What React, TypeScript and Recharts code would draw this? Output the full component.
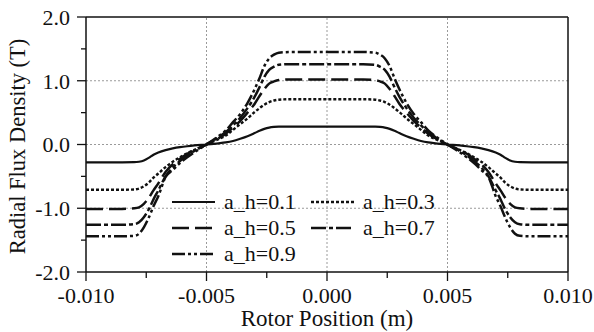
import React from 'react';
import { LineChart, Line, XAxis, YAxis, ReferenceLine, Legend } from 'recharts';

const FONT = 'Liberation Serif';
const INK = '#111';

// rotor position (m)
const positions = [
  -0.01, -0.0085, -0.008, -0.0078, -0.0076, -0.0074, -0.0072, -0.007, -0.0067, -0.0064, -0.0061, -0.0058,
  -0.0055, -0.005, -0.0045, -0.0042, -0.0039, -0.0036, -0.0033, -0.003, -0.0028, -0.0026, -0.0024, -0.0022,
  -0.002, -0.0015, 0, 0.0015, 0.002, 0.0022, 0.0024, 0.0026, 0.0028, 0.003, 0.0033, 0.0036, 0.0039, 0.0042,
  0.0045, 0.005, 0.0055, 0.0058, 0.0061, 0.0064, 0.0067, 0.007, 0.0072, 0.0074, 0.0076, 0.0078, 0.008,
  0.0085, 0.01,
];

// radial flux density (T) for each a_h
const ah01 = [
  -0.28, -0.28, -0.278, -0.27, -0.25, -0.21, -0.16, -0.125, -0.088, -0.062, -0.042, -0.027,
  -0.015, 0, 0.018, 0.032, 0.055, 0.09, 0.13, 0.18, 0.215, 0.245, 0.265, 0.275,
  0.279, 0.28, 0.28, 0.28, 0.279, 0.275, 0.265, 0.245, 0.215, 0.18, 0.13, 0.09, 0.055, 0.032,
  0.018, 0, -0.015, -0.027, -0.042, -0.062, -0.088, -0.125, -0.16, -0.21, -0.25, -0.27, -0.278,
  -0.28, -0.28,
];
const ah03 = [
  -0.71, -0.71, -0.705, -0.69, -0.655, -0.6, -0.52, -0.455, -0.355, -0.27, -0.2, -0.135,
  -0.085, 0, 0.085, 0.14, 0.23, 0.32, 0.41, 0.51, 0.57, 0.625, 0.665, 0.69,
  0.703, 0.71, 0.71, 0.71, 0.703, 0.69, 0.665, 0.625, 0.57, 0.51, 0.41, 0.32, 0.23, 0.14,
  0.085, 0, -0.085, -0.135, -0.2, -0.27, -0.355, -0.455, -0.52, -0.6, -0.655, -0.69, -0.705,
  -0.71, -0.71,
];
const ah05 = [
  -1.01, -1.01, -1.0, -0.985, -0.93, -0.84, -0.72, -0.61, -0.43, -0.31, -0.225, -0.145,
  -0.087, 0, 0.1, 0.17, 0.265, 0.37, 0.5, 0.64, 0.76, 0.87, 0.955, 0.99,
  1.01, 1.02, 1.02, 1.02, 1.01, 0.99, 0.955, 0.87, 0.76, 0.64, 0.5, 0.37, 0.265, 0.17,
  0.1, 0, -0.087, -0.145, -0.225, -0.31, -0.43, -0.61, -0.72, -0.84, -0.93, -0.985, -1.0,
  -1.01, -1.01,
];
const ah07 = [
  -1.26, -1.26, -1.25, -1.22, -1.14, -1.02, -0.86, -0.72, -0.5, -0.36, -0.26, -0.17,
  -0.1, 0, 0.115, 0.195, 0.3, 0.42, 0.57, 0.75, 0.9, 1.06, 1.17, 1.22,
  1.25, 1.26, 1.26, 1.26, 1.25, 1.22, 1.17, 1.06, 0.9, 0.75, 0.57, 0.42, 0.3, 0.195,
  0.115, 0, -0.1, -0.17, -0.26, -0.36, -0.5, -0.72, -0.86, -1.02, -1.14, -1.22, -1.25,
  -1.26, -1.26,
];
const ah09 = [
  -1.44, -1.44, -1.433, -1.4, -1.3, -1.15, -0.97, -0.81, -0.51, -0.4, -0.29, -0.2,
  -0.12, 0, 0.13, 0.22, 0.35, 0.48, 0.65, 0.87, 1.04, 1.23, 1.35, 1.41,
  1.44, 1.45, 1.45, 1.45, 1.44, 1.41, 1.35, 1.23, 1.04, 0.87, 0.65, 0.48, 0.35, 0.22,
  0.13, 0, -0.12, -0.2, -0.29, -0.4, -0.51, -0.81, -0.97, -1.15, -1.3, -1.4, -1.433,
  -1.44, -1.44,
];

const seriesNames = ['a_h=0.1', 'a_h=0.3', 'a_h=0.5', 'a_h=0.7', 'a_h=0.9'];
const xTicks = [-0.01, -0.0075, -0.005, -0.0025, 0, 0.0025, 0.005, 0.0075, 0.01];
const yTicks = [-2, -1.5, -1, -0.5, 0, 0.5, 1, 1.5, 2];
const xGrid = [-0.005, 0, 0.005];
const yGrid = [-1, 0, 1];

const data = positions.map((x, i) => ({
  x,
  ah01: ah01[i],
  ah03: ah03[i],
  ah05: ah05[i],
  ah07: ah07[i],
  ah09: ah09[i],
}));

const series = [
  { key: 'ah01', name: seriesNames[0], dash: undefined, width: 2.2 },
  { key: 'ah03', name: seriesNames[1], dash: '3 2', width: 2.4 },
  { key: 'ah05', name: seriesNames[2], dash: '17 6', width: 2.5 },
  { key: 'ah07', name: seriesNames[3], dash: '15 3 4 3', width: 2.5 },
  { key: 'ah09', name: seriesNames[4], dash: '13 3 3 3 3 3', width: 2.5 },
];

const YTick = (props: any) => {
  const { x, y, payload } = props;
  const v = payload.value as number;
  const major = Math.abs(v - Math.round(v)) < 1e-9;
  return (
    <g>
      <line x1={x} x2={x - (major ? 9 : 5)} y1={y} y2={y} stroke={INK} strokeWidth={1.3} />
      {major && (
        <text x={x - 16} y={y} dy="0.36em" textAnchor="end" fontFamily={FONT} fontSize={22} fill={INK}>
          {v.toFixed(1)}
        </text>
      )}
    </g>
  );
};

const XTick = (props: any) => {
  const { x, y, payload } = props;
  const v = payload.value as number;
  const major = Math.abs(v / 0.005 - Math.round(v / 0.005)) < 1e-6;
  return (
    <g>
      <line x1={x} x2={x} y1={y} y2={y + (major ? 9 : 6)} stroke={INK} strokeWidth={1.3} />
      {major && (
        <text x={x} y={y + 30.5} textAnchor="middle" fontFamily={FONT} fontSize={22} fill={INK}>
          {v.toFixed(3)}
        </text>
      )}
    </g>
  );
};

const YTitle = (props: any) => {
  const { viewBox } = props;
  const cx = viewBox.x + 17;
  const cy = viewBox.y + viewBox.height / 2 + 2;
  return (
    <text
      x={cx}
      y={cy}
      transform={`rotate(-90 ${cx} ${cy})`}
      textAnchor="middle"
      dy="0.34em"
      fontFamily={FONT}
      fontSize={22.5}
      fill={INK}
    >
      Radial Flux Density (T)
    </text>
  );
};

const XTitle = (props: any) => {
  const { viewBox } = props;
  return (
    <text
      x={viewBox.x + viewBox.width / 2}
      y={viewBox.y + 54}
      textAnchor="middle"
      fontFamily={FONT}
      fontSize={23}
      fill={INK}
    >
      Rotor Position (m)
    </text>
  );
};

const renderLegend = () => (
  <div style={{ display: 'grid', gridTemplateColumns: '139px 139px', fontFamily: FONT, fontSize: 22, color: INK }}>
    {series.map((s) => (
      <div key={s.key} style={{ display: 'flex', alignItems: 'center', height: 26, lineHeight: '26px' }}>
        <svg width={54} height={26} style={{ display: 'block' }}>
          <line x1={2} x2={45} y1={13} y2={13} stroke={INK} strokeWidth={s.width} strokeDasharray={s.dash} />
        </svg>
        <span style={{ whiteSpace: 'nowrap' }}>{s.name}</span>
      </div>
    ))}
  </div>
);

export default function App() {
  return (
    <div style={{ position: 'absolute', left: 0, top: 0, background: '#fff' }}>
      <LineChart width={594} height={332} data={data} margin={{ top: 17, right: 26, left: 0, bottom: 0 }}>
        {xGrid.map((v) => (
          <ReferenceLine key={`gx${v}`} x={v} stroke="#9a9a9a" strokeDasharray="2 2" strokeWidth={1} />
        ))}
        {yGrid.map((v) => (
          <ReferenceLine key={`gy${v}`} y={v} stroke="#9a9a9a" strokeDasharray="2 2" strokeWidth={1} />
        ))}
        <ReferenceLine y={2} stroke={INK} strokeWidth={1.5} />
        <ReferenceLine x={0.01} stroke={INK} strokeWidth={1.5} />
        <XAxis
          dataKey="x"
          type="number"
          domain={[-0.01, 0.01]}
          ticks={xTicks}
          interval={0}
          height={60}
          tickLine={false}
          tickSize={0}
          tickMargin={0}
          tick={<XTick />}
          axisLine={{ stroke: INK, strokeWidth: 1.5 }}
          label={{ content: <XTitle /> }}
        />
        <YAxis
          type="number"
          domain={[-2, 2]}
          ticks={yTicks}
          interval={0}
          width={86}
          tickLine={false}
          tickSize={0}
          tickMargin={0}
          tick={<YTick />}
          axisLine={{ stroke: INK, strokeWidth: 1.5 }}
          label={{ content: <YTitle /> }}
        />
        <Legend
          layout="horizontal"
          verticalAlign="middle"
          align="center"
          content={renderLegend}
          wrapperStyle={{ left: 170, top: 189, width: 290 }}
        />
        {series.map((s) => (
          <Line
            key={s.key}
            dataKey={s.key}
            name={s.name}
            type="monotone"
            stroke={INK}
            strokeWidth={s.width}
            strokeDasharray={s.dash}
            dot={false}
            activeDot={false}
            isAnimationActive={false}
          />
        ))}
      </LineChart>
    </div>
  );
}
